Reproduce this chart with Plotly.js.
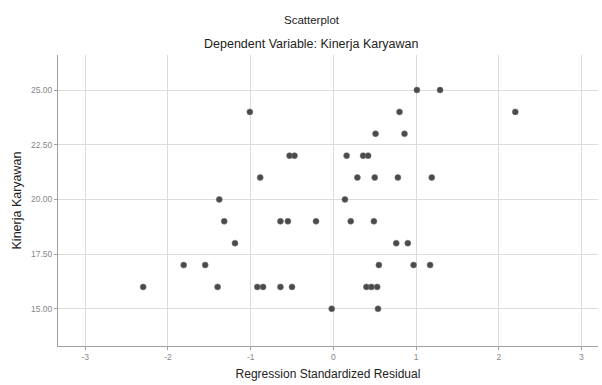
<!DOCTYPE html>
<html>
<head>
<meta charset="utf-8">
<script src="https://cdn.plot.ly/plotly-3.0.1.min.js"></script>
<style>html,body{margin:0;padding:0;background:#fff;}#chart{width:602px;height:385px;}</style>
</head>
<body>
<div id="chart"></div>
<script>
// Regression standardized residual (x) and Kinerja Karyawan (y)
const residuals = [
  1.01, 1.29,
  -1.01, 0.80, 2.20,
  0.51, 0.86,
  -0.53, -0.47, 0.16, 0.36, 0.42,
  -0.885, 0.29, 0.50, 0.78, 1.19,
  -1.38, 0.14,
  -1.32, -0.64, -0.55, -0.21, 0.21, 0.49,
  -1.19, 0.76, 0.90,
  -1.81, -1.55, 0.55, 0.97, 1.17,
  -2.30, -1.40, -0.92, -0.85, -0.64, -0.50, 0.40, 0.46, 0.53,
  -0.02, 0.54
];
const kinerja = [
  25, 25,
  24, 24, 24,
  23, 23,
  22, 22, 22, 22, 22,
  21, 21, 21, 21, 21,
  20, 20,
  19, 19, 19, 19, 19, 19,
  18, 18, 18,
  17, 17, 17, 17, 17,
  16, 16, 16, 16, 16, 16, 16, 16, 16,
  15, 15
];
const xTicks = [-3, -2, -1, 0, 1, 2, 3];
const yTicks = [15, 17.5, 20, 22.5, 25];

const trace = {
  type: 'scatter', mode: 'markers',
  x: residuals, y: kinerja,
  marker: {size: 6, color: '#4a4a4a', line: {width: 0.6, color: '#777'}},
  hoverinfo: 'skip'
};
const axisCommon = {
  showgrid: true, gridcolor: '#dcdcdc', gridwidth: 1,
  zeroline: false, showline: true, linecolor: '#a0a0a0', linewidth: 1,
  ticks: 'outside', ticklen: 3, tickcolor: '#a0a0a0',
  tickfont: {family: 'Arial, Liberation Sans, sans-serif', size: 8.5, color: '#888'}
};
const layout = {
  width: 602, height: 385,
  margin: {l: 58, r: 4, t: 55, b: 39},
  paper_bgcolor: '#fff', plot_bgcolor: '#fff',
  showlegend: false,
  font: {family: 'Arial, Liberation Sans, sans-serif', color: '#222'},
  xaxis: Object.assign({}, axisCommon, {
    range: [-3.33, 3.2], tickvals: xTicks, ticktext: xTicks.map(String),
    title: {text: 'Regression Standardized Residual', font: {size: 12, color: '#222'}, standoff: 8}
  }),
  yaxis: Object.assign({}, axisCommon, {
    range: [13.3, 26.6], tickvals: yTicks, ticktext: yTicks.map(v => v.toFixed(2)),
    title: {text: 'Kinerja Karyawan', font: {size: 12.5, color: '#222'}, standoff: 6}
  }),
  annotations: [
    {text: 'Scatterplot', xref: 'paper', yref: 'paper', x: 0.47, y: 1, yshift: 35, xanchor: 'center', yanchor: 'middle', showarrow: false, font: {size: 11.5, color: '#222'}},
    {text: 'Dependent Variable: Kinerja Karyawan', xref: 'paper', yref: 'paper', x: 0.47, y: 1, yshift: 11, xanchor: 'center', yanchor: 'middle', showarrow: false, font: {size: 12.5, color: '#222'}}
  ]
};
Plotly.newPlot('chart', [trace], layout, {displayModeBar: false, staticPlot: true});
</script>
</body>
</html>
